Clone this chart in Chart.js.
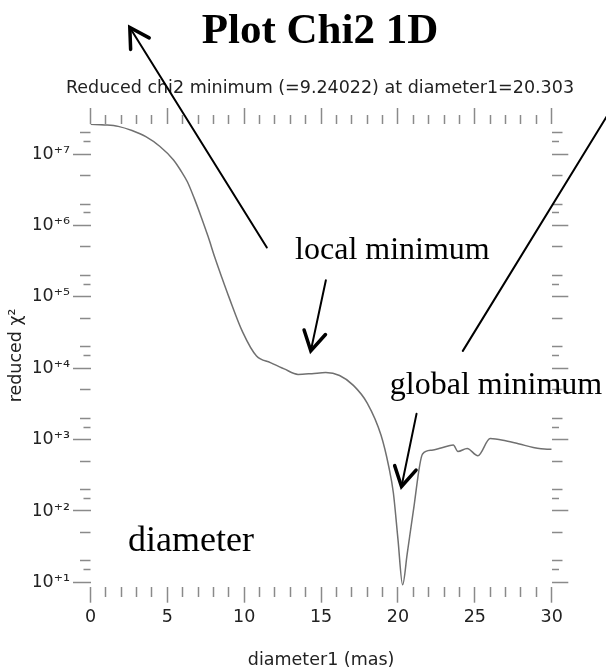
<!DOCTYPE html>
<html>
<head>
<meta charset="utf-8">
<script src="https://cdn.jsdelivr.net/npm/chart.js@4.4.1/dist/chart.umd.min.js"></script>
<style>
  html, body { margin: 0; padding: 0; background: #fff; }
</style>
</head>
<body>
<canvas id="chi2Chart" width="606" height="671"></canvas>
<script>
// chi2 curve (diameter in mas, reduced chi2)
const diameters = [0, 0.9, 1.8, 2.7, 3.6, 4.5, 5.4, 5.85, 6.3, 6.75, 7.2, 7.65, 8.1, 8.55,
  9.0, 9.9, 10.8, 11.7, 12.6, 13.5, 14.4, 15.3, 16.2, 17.1, 18.0, 18.9, 19.4, 19.7, 20.0,
  20.303, 20.6, 21.0, 21.6, 22.2, 22.8, 23.6, 23.9, 24.5, 25.2, 26.0, 27.0, 27.9, 28.8,
  29.7, 30.0];
const chi2Values = [2.63e7, 2.57e7, 2.45e7, 2.14e7, 1.76e7, 1.29e7, 8.3e6, 6.0e6, 4.1e6,
  2.4e6, 1.32e6, 7.0e5, 3.5e5, 1.85e5, 1.0e5, 3.2e4, 1.48e4, 1.2e4, 9.8e3, 8.2e3, 8.4e3,
  8.7e3, 7.9e3, 5.75e3, 3.25e3, 1150, 420, 180, 40, 9.24, 25, 100, 630, 710, 760, 840,
  680, 750, 595, 1035, 965, 870, 775, 735, 735];

const xTickValues = Array.from({ length: 31 }, (_, i) => i);
const xTickLabels = ['0', '5', '10', '15', '20', '25', '30'];
const yDecades = [1e1, 1e2, 1e3, 1e4, 1e5, 1e6, 1e7];
const yDecadeLabels = ['10⁺¹', '10⁺²', '10⁺³', '10⁺⁴', '10⁺⁵', '10⁺⁶', '10⁺⁷'];
const yMinorSteps = [1.5, 2, 5];
const yMin = 8.68;
const yMax = 2.646e7;

const yTickValues = [];
yDecades.forEach((d) => {
  yTickValues.push(d);
  yMinorSteps.forEach((m) => {
    if (d * m <= yMax) yTickValues.push(d * m);
  });
});

// hand drawn notes, in data units
const arrows = [
  { from: [11.47, 4.93e5], to: [2.557, 5.97e8], head: true },
  { from: [35.7, 1.875e8], to: [24.22, 1.75e4], head: false },
  { from: [15.31, 1.71e5], to: [14.33, 1.75e4], head: true },
  { from: [21.21, 2.31e3], to: [20.23, 220], head: true },
];
const notes = [
  { text: 'local minimum', at: [13.31, 3.35e5], size: 32 },
  { text: 'global minimum', at: [19.47, 4.4e3], size: 32 },
  { text: 'diameter', at: [2.44, 27.7], size: 36 },
];

const tickGray = '#8a8a8a';
const labelColor = '#222';
const sansFont = { family: 'DejaVu Sans', size: 17.5 };

function isDecade(v) {
  return yDecades.some((d) => Math.abs(v - d) / d < 1e-6);
}
function isHalfStep(v) {
  return yDecades.some((d) => Math.abs(v - 1.5 * d) / d < 1e-6);
}

const handNotes = {
  id: 'handNotes',
  afterDraw(chart) {
    const { ctx } = chart;
    const xs = chart.scales.x;
    const ys = chart.scales.y;
    const px = (p) => [xs.getPixelForValue(p[0]), ys.getPixelForValue(p[1])];
    ctx.save();
    ctx.strokeStyle = '#000';
    ctx.lineCap = 'round';
    arrows.forEach((a) => {
      const [x1, y1] = px(a.from);
      const [x2, y2] = px(a.to);
      ctx.lineWidth = 2;
      ctx.beginPath();
      ctx.moveTo(x1, y1);
      ctx.lineTo(x2, y2);
      ctx.stroke();
      if (a.head) {
        const ang = Math.atan2(y1 - y2, x1 - x2);
        const len = 22;
        ctx.lineWidth = 3.5;
        ctx.beginPath();
        ctx.moveTo(x2 + len * Math.cos(ang - 0.52), y2 + len * Math.sin(ang - 0.52));
        ctx.lineTo(x2, y2);
        ctx.lineTo(x2 + len * Math.cos(ang + 0.52), y2 + len * Math.sin(ang + 0.52));
        ctx.stroke();
      }
    });
    ctx.fillStyle = '#000';
    ctx.textAlign = 'left';
    ctx.textBaseline = 'alphabetic';
    notes.forEach((n) => {
      const [x, y] = px(n.at);
      ctx.font = n.size + 'px "Liberation Serif"';
      ctx.fillText(n.text, x, y);
    });
    ctx.restore();
  },
};

const ctx = document.getElementById('chi2Chart').getContext('2d');

const chart = new Chart(ctx, {
  type: 'line',
  data: {
    datasets: [
      {
        label: 'reduced chi2',
        data: diameters.map((d, i) => ({ x: d, y: chi2Values[i] })),
        borderColor: '#707070',
        borderWidth: 1.5,
        pointRadius: 0,
        fill: false,
        cubicInterpolationMode: 'monotone',
        xAxisID: 'x',
        yAxisID: 'y',
      },
    ],
  },
  options: {
    responsive: false,
    animation: false,
    // left padding only shifts the centred titles; the y axis box is narrowed to match
    layout: { padding: { left: 34, right: 0, top: 0, bottom: 0 } },
    plugins: {
      legend: { display: false },
      tooltip: { enabled: false },
      title: {
        display: true,
        text: 'Plot Chi2 1D',
        color: '#000',
        font: { family: 'Liberation Serif', size: 43, weight: 'bold', lineHeight: 1 },
        padding: { top: 10, bottom: 23.5 },
      },
      subtitle: {
        display: true,
        text: 'Reduced chi2 minimum (=9.24022) at diameter1=20.303',
        color: labelColor,
        font: { family: 'DejaVu Sans', size: 17.5, lineHeight: 1.2 },
        padding: { top: 1, bottom: 0 },
      },
    },
    scales: {
      x: {
        type: 'linear',
        position: 'bottom',
        min: 0,
        max: 30,
        afterBuildTicks: (s) => { s.ticks = xTickValues.map((v) => ({ value: v })); },
        afterFit: (s) => { s.height = 84.3; },
        border: { display: false },
        grid: {
          drawOnChartArea: false,
          tickLength: 16,
          tickWidth: 1.5,
          tickColor: tickGray,
          tickBorderDash: (c) => (c.tick && c.tick.value % 5 === 0 ? [] : [10, 100]),
        },
        ticks: {
          autoSkip: false,
          maxRotation: 0,
          padding: 4,
          color: labelColor,
          font: sansFont,
          callback: (v) => (v % 5 === 0 ? xTickLabels[v / 5] : ''),
        },
        title: {
          display: true,
          text: 'diameter1 (mas)',
          color: labelColor,
          font: sansFont,
          padding: { top: 0, bottom: 0 },
        },
      },
      xTop: {
        type: 'linear',
        position: 'top',
        min: 0,
        max: 30,
        afterBuildTicks: (s) => { s.ticks = xTickValues.map((v) => ({ value: v })); },
        afterFit: (s) => { s.height = 25.5; },
        border: { display: false },
        grid: {
          drawOnChartArea: false,
          tickLength: 16,
          tickWidth: 1.5,
          tickColor: tickGray,
          tickBorderDash: (c) => (c.tick && c.tick.value % 5 === 0 ? [] : [0, 7, 9, 100]),
        },
        ticks: { display: false, autoSkip: false },
      },
      y: {
        type: 'logarithmic',
        position: 'left',
        min: yMin,
        max: yMax,
        afterBuildTicks: (s) => { s.ticks = yTickValues.map((v) => ({ value: v })); },
        afterFit: (s) => { s.width = 56.5; },
        border: { display: false },
        grid: {
          drawOnChartArea: false,
          tickLength: 17.5,
          tickWidth: 1.5,
          tickColor: tickGray,
          tickBorderDash: (c) => {
            const v = c.tick ? c.tick.value : 0;
            if (isDecade(v)) return [];
            return isHalfStep(v) ? [0, 10.5, 7, 100] : [0, 7, 10.5, 100];
          },
        },
        ticks: {
          autoSkip: false,
          padding: 3,
          color: labelColor,
          font: sansFont,
          callback: (v) => {
            const i = yDecades.findIndex((d) => Math.abs(v - d) / d < 1e-6);
            return i >= 0 ? yDecadeLabels[i] : '';
          },
        },
        title: {
          display: true,
          text: 'reduced χ²',
          color: labelColor,
          font: sansFont,
          padding: { top: -28, bottom: 0 },
        },
      },
      yRight: {
        type: 'logarithmic',
        position: 'right',
        min: yMin,
        max: yMax,
        afterBuildTicks: (s) => { s.ticks = yTickValues.map((v) => ({ value: v })); },
        afterFit: (s) => { s.width = 54.3; },
        border: { display: false },
        grid: {
          drawOnChartArea: false,
          tickLength: 16.6,
          tickWidth: 1.5,
          tickColor: tickGray,
          tickBorderDash: (c) => {
            const v = c.tick ? c.tick.value : 0;
            if (isDecade(v)) return [];
            return isHalfStep(v) ? [7, 100] : [10.5, 100];
          },
        },
        ticks: { display: false, autoSkip: false },
      },
    },
  },
  plugins: [handNotes],
});
</script>
</body>
</html>
